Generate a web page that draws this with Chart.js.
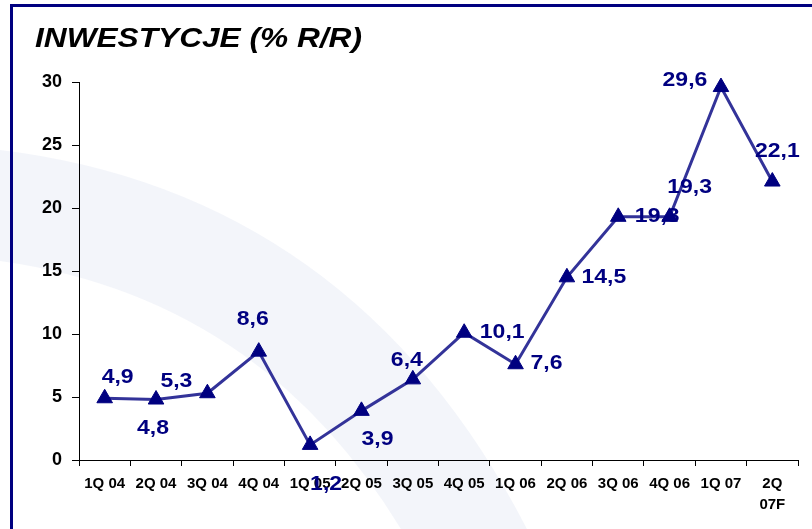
<!DOCTYPE html>
<html>
<head>
<meta charset="utf-8">
<script src="https://cdn.jsdelivr.net/npm/chart.js@4/dist/chart.umd.min.js"></script>
<style>
html,body{margin:0;padding:0;background:#fff;}
#wrap{width:812px;height:529px;position:relative;}
</style>
</head>
<body>
<div id="wrap"><canvas id="c" width="812" height="529"></canvas></div>
<script>
// ---- data ----
const title = 'INWESTYCJE (% R/R)';
const categories = ['1Q 04','2Q 04','3Q 04','4Q 04','1Q 05','2Q 05','3Q 05','4Q 05','1Q 06','2Q 06','3Q 06','4Q 06','1Q 07',['2Q','07F']];
const values = [4.9, 4.8, 5.3, 8.6, 1.2, 3.9, 6.4, 10.1, 7.6, 14.5, 19.3, 19.3, 29.6, 22.1];
const yTicks = [0, 5, 10, 15, 20, 25, 30];

// ---- label placement (style only: pixel offsets of each value label from its point) ----
const labelOffsets = [[13,-21],[-3,29],[-31,-12],[-6,-32],[16,40],[16,29],[-6,-19],[38,0],[31,-1],[37,0],[39,0],[20,-29],[-36,-7],[5,-30]];

const fmt = v => v.toFixed(1).replace('.', ',');

const decorPlugin = {
  id: 'decor',
  beforeDraw(chart) {
    const ctx = chart.ctx;
    ctx.save();
    ctx.fillStyle = '#fff';
    ctx.fillRect(0, 0, chart.width, chart.height);
    // faint background swoosh
    ctx.strokeStyle = 'rgba(228,232,245,0.45)';
    ctx.lineWidth = 110;
    ctx.beginPath();
    ctx.moveTo(-60, 200);
    ctx.quadraticCurveTo(330, 220, 500, 600);
    ctx.stroke();
    // frame lines
    ctx.fillStyle = '#000080';
    ctx.fillRect(10, 4, chart.width - 10, 3);
    ctx.fillRect(10, 4, 3, chart.height - 4);
    // title
    ctx.fillStyle = '#000';
    ctx.font = 'italic bold 28px "Liberation Sans", Arial, sans-serif';
    ctx.textBaseline = 'alphabetic';
    ctx.translate(35, 47);
    ctx.scale(1.13, 1);
    ctx.fillText(title, 0, 0);
    ctx.restore();
  },
  afterDatasetsDraw(chart) {
    const ctx = chart.ctx;
    const meta = chart.getDatasetMeta(0);
    ctx.save();
    ctx.fillStyle = '#000080';
    ctx.font = 'bold 20px "Liberation Sans", Arial, sans-serif';
    ctx.textAlign = 'center';
    ctx.textBaseline = 'middle';
    meta.data.forEach((pt, i) => {
      const off = labelOffsets[i];
      ctx.save();
      ctx.translate(pt.x + off[0], pt.y + off[1]);
      ctx.scale(1.15, 1);
      ctx.fillText(fmt(values[i]), 0, 0);
      ctx.restore();
    });
    ctx.restore();
  }
};

new Chart(document.getElementById('c'), {
  type: 'line',
  data: {
    labels: categories,
    datasets: [{
      data: values,
      borderColor: '#333399',
      borderWidth: 3,
      pointStyle: 'triangle',
      pointRadius: 9,
      pointBackgroundColor: '#000080',
      pointBorderColor: '#000080',
      pointBorderWidth: 1,
      tension: 0,
      clip: false
    }]
  },
  options: {
    responsive: false,
    animation: false,
    devicePixelRatio: 1,
    layout: { padding: { top: 82, right: 14, left: 0, bottom: 0 } },
    plugins: { legend: { display: false }, tooltip: { enabled: false }, title: { display: false } },
    scales: {
      x: {
        type: 'category',
        offset: true,
        grid: { display: true, drawOnChartArea: false, drawTicks: true, tickLength: 6, color: '#000', offset: true },
        border: { display: true, color: '#000', width: 1 },
        ticks: {
          color: '#000',
          font: { family: '"Liberation Sans", Arial, sans-serif', size: 15, weight: 'bold', lineHeight: 1.35 },
          padding: 8,
          maxRotation: 0,
          autoSkip: false
        },
        afterFit(scale) { scale.height = 69; }
      },
      y: {
        min: 0,
        max: 30,
        afterBuildTicks(scale) { scale.ticks = yTicks.map(v => ({ value: v })); },
        grid: { display: true, drawOnChartArea: false, drawTicks: true, tickLength: 7, color: '#000' },
        border: { display: true, color: '#000', width: 1 },
        ticks: {
          color: '#000',
          font: { family: '"Liberation Sans", Arial, sans-serif', size: 18, weight: 'bold' },
          padding: 10
        },
        afterFit(scale) { scale.width = 79; }
      }
    }
  },
  plugins: [decorPlugin]
});
</script>
</body>
</html>
